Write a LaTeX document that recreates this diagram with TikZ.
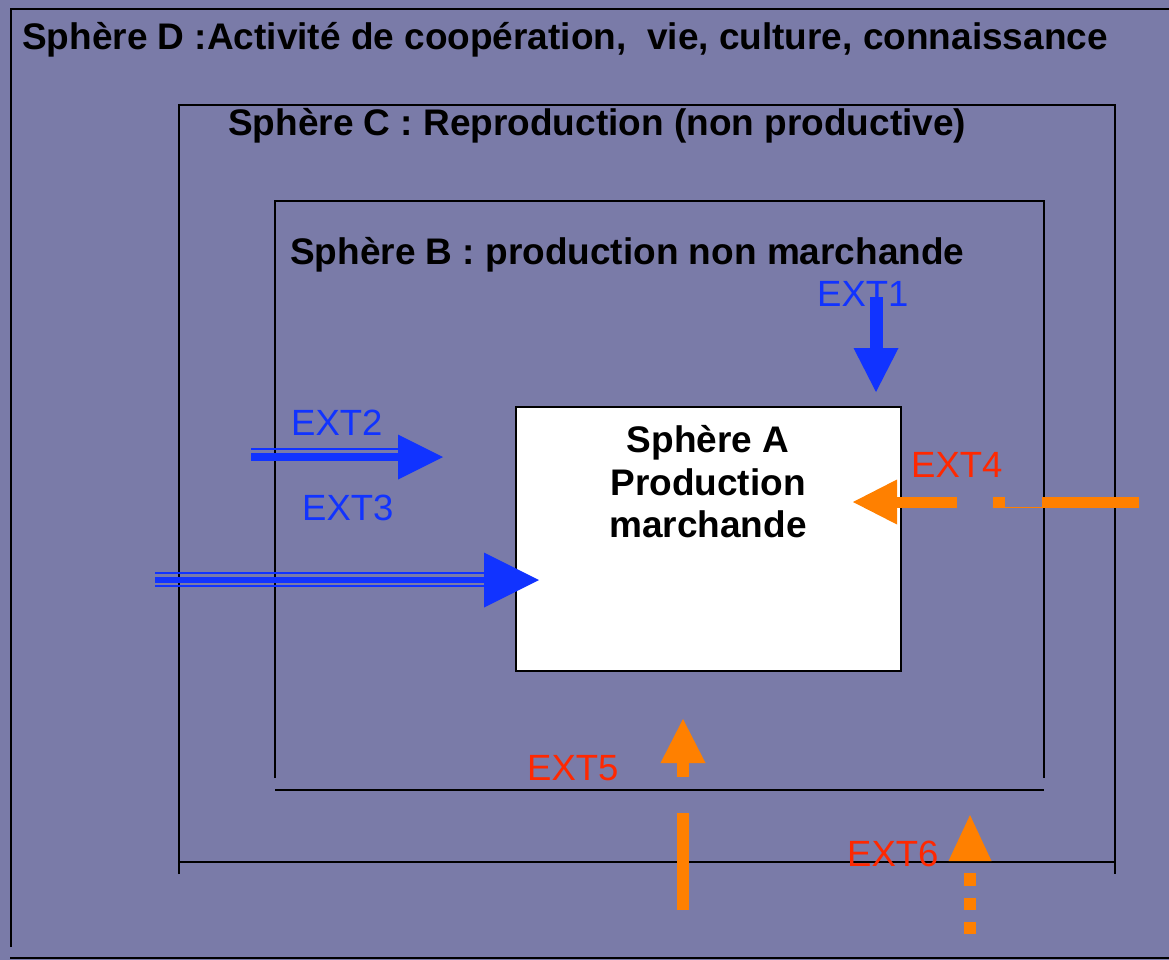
\documentclass[tikz,border=0pt]{standalone}
\usepackage{fontspec}
\setmainfont{Liberation Sans}
\usetikzlibrary{arrows.meta}
\definecolor{bg}{RGB}{122,123,168}
\definecolor{eblue}{RGB}{17,51,255}
\definecolor{ered}{RGB}{255,40,0}
\definecolor{eorange}{RGB}{255,128,0}
\begin{document}
\begin{tikzpicture}[x=1pt,y=-1pt,
  boxline/.style={line width=2pt, draw=black},
  titletext/.style={font=\fontsize{37}{44}\selectfont\bfseries, anchor=base west, inner sep=0pt, text=black},
  atext/.style={font=\fontsize{37}{44}\selectfont\bfseries, anchor=base, inner sep=0pt, text=black},
  extblue/.style={font=\fontsize{36.5}{44}\selectfont, anchor=base west, inner sep=0pt, text=eblue},
  extred/.style={font=\fontsize{36.5}{44}\selectfont, anchor=base west, inner sep=0pt, text=ered},
  bluearrow/.style={draw=eblue},
  orangearrow/.style={draw=eorange},
  tipA/.style={-{Triangle[width=45pt,length=44pt,line width=0pt]}}
]
\fill[bg] (0,0) rectangle (1169,960);
\useasboundingbox (0,0) rectangle (1169,960);

% Sphere D
\draw[boxline] (1169,9) -- (11,9) -- (11,947);
\draw[boxline] (10,958) -- (1169,958);
% Sphere C
\draw[boxline] (179,874) -- (179,105) -- (1115,105) -- (1115,874);
\draw[boxline] (179,862) -- (1115,862);
% Sphere B
\draw[boxline] (275,778) -- (275,201) -- (1044,201) -- (1044,778);
\draw[boxline] (275,790) -- (1044,790);
% Sphere A
\node[draw=black, line width=2pt, fill=white, minimum width=385pt, minimum height=264pt, inner sep=0pt, anchor=north west] (A) at (515,406) {};

% titles
\node[titletext] (Dt) at (22,50) {Sphère D :Activité de coopération,\ \ vie, culture, connaissance};
\node[titletext] (Ct) at (228,136) {Sphère C : Reproduction (non productive)};
\node[titletext] (Bt) at (290,264) {Sphère B : production non marchande};
\node[atext] (A1) at (708,452) {Sphère A};
\node[atext] (A2) at (708,495) {Production};
\node[atext] (A3) at (708,537) {marchande};

% labels
\node[extblue] (L1) at (817,306) {EXT1};
\node[extblue] (L2) at (291,435) {EXT2};
\node[extblue] (L3) at (302,520) {EXT3};
\node[extred] (L4) at (911,477) {EXT4};
\node[extred] (L5) at (527,780) {EXT5};
\node[extred] (L6) at (847,866) {EXT6};

% coordinates
\coordinate (e1s) at (876,297);  \coordinate (e1t) at (876,392);
\coordinate (e2s) at (251,457);  \coordinate (e2t) at (443,457);
\coordinate (e2a) at (251,449);  \coordinate (e2b) at (398,449);
\coordinate (e3s) at (155,580);  \coordinate (e3t) at (539,580);
\coordinate (e3a) at (155,573);  \coordinate (e3b) at (484,573);
\coordinate (e3c) at (155,586);  \coordinate (e3d) at (484,586);
\coordinate (e4s) at (1139,502); \coordinate (e4t) at (853,502);
\coordinate (e4a) at (1005,507); \coordinate (e4b) at (1042,507);
\coordinate (e5s) at (683,910);  \coordinate (e5t) at (683,719);
\coordinate (e6s) at (970,934);  \coordinate (e6t) at (970,815);

% EXT1
\draw[bluearrow, line width=13pt, tipA] (e1s) -- (e1t);
% EXT2
\draw[bluearrow, line width=8pt, -{Triangle[width=45pt,length=45pt,line width=0pt]}] (e2s) -- (e2t);
\draw[bluearrow, line width=2pt] (e2a) -- (e2b);
% EXT3
\draw[bluearrow, line width=6pt, -{Triangle[width=55pt,length=55pt,line width=0pt]}] (e3s) -- (e3t);
\draw[bluearrow, line width=2pt] (e3a) -- (e3b);
\draw[bluearrow, line width=2pt] (e3c) -- (e3d);
% EXT4
\draw[orangearrow, line width=11pt, tipA, dash pattern=on 97pt off 37pt on 12pt off 36pt on 400pt] (e4s) -- (e4t);
\draw[orangearrow, line width=1pt] (e4a) -- (e4b);
% EXT5
\draw[orangearrow, line width=11.5pt, tipA, dash pattern=on 97pt off 36pt on 400pt] (e5s) -- (e5t);
% EXT6
\draw[orangearrow, line width=12pt, -{Triangle[width=43pt,length=46pt,line width=0pt]}, dash pattern=on 12pt off 12pt on 12pt off 12pt on 13pt off 200pt] (e6s) -- (e6t);
\end{tikzpicture}
\end{document}
